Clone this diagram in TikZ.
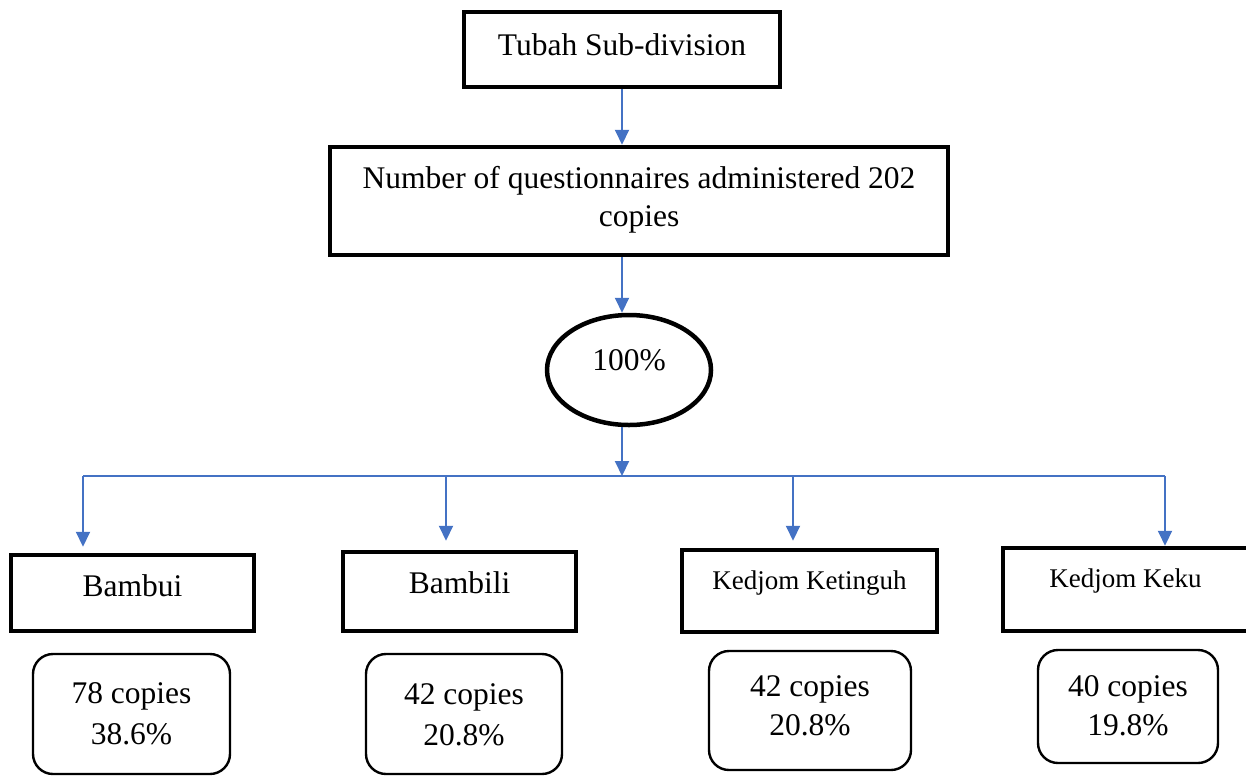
\documentclass[tikz,border=0pt]{standalone}
\usepackage{fontspec}
\setmainfont{Liberation Serif}
\usetikzlibrary{arrows.meta,shapes.geometric,calc}
\definecolor{wordblue}{RGB}{68,114,196}
\tikzset{
  mainfont/.style={font=\fontsize{31.5}{38}\selectfont},
  smallfont/.style={font=\fontsize{27}{33}\selectfont,text height=19pt},
  thickbox/.style={draw=black,line width=4.5pt,rectangle,inner sep=0pt,align=center,mainfont,text height=22pt},
  roundbox/.style={draw=black,line width=2.4pt,rectangle,rounded corners=20pt,inner sep=0pt,align=center},
  ovalbox/.style={draw=black,line width=4.5pt,ellipse,inner sep=0pt,mainfont,text height=22pt},
  flow/.style={draw=wordblue,line width=2pt,-{Triangle[length=15pt,width=14pt]}},
  busline/.style={draw=wordblue,line width=2pt},
}
\begin{document}
\begin{tikzpicture}[x=1pt,y=-1pt]
\useasboundingbox (0,0) rectangle (1246,777);
% main column
\node[thickbox,minimum width=316pt,minimum height=75pt,text depth=11pt] (top) at (622,49.5) {Tubah Sub-division};
\node[thickbox,minimum width=618pt,minimum height=108pt,text height=60pt,text depth=10pt] (mid) at (639,201) {Number of questionnaires administered 202\\copies};
\node[ovalbox,minimum width=164pt,minimum height=110pt,text depth=22pt] (ell) at (629,370) {100\%};
% sites
\node[thickbox,minimum width=243pt,minimum height=76pt,text depth=16pt] (b1) at (132.5,593) {Bambui};
\node[thickbox,minimum width=233pt,minimum height=79pt,text depth=19pt] (b2) at (459.5,591.5) {Bambili};
\node[thickbox,smallfont,minimum width=255pt,minimum height=82pt,text depth=23pt] (b3) at (809.5,591) {Kedjom Ketinguh};
\node[thickbox,smallfont,minimum width=245pt,minimum height=83pt,text depth=24pt] (b4) at (1125.5,589.5) {Kedjom Keku};
% counts
\node[roundbox,font=\fontsize{31.5}{41}\selectfont,minimum width=197pt,minimum height=120pt,text height=63pt,text depth=3pt] (r1) at (131.5,714) {78 copies\\38.6\%};
\node[roundbox,font=\fontsize{31.5}{41}\selectfont,minimum width=196pt,minimum height=120pt,text height=63pt,text depth=1pt] (r2) at (464,714) {42 copies\\20.8\%};
\node[roundbox,font=\fontsize{31.5}{39}\selectfont,minimum width=202pt,minimum height=119pt,text height=61pt,text depth=12pt] (r3) at (810,710.5) {42 copies\\20.8\%};
\node[roundbox,font=\fontsize{31.5}{39}\selectfont,minimum width=180pt,minimum height=113pt,text height=61pt,text depth=4pt] (r4) at (1128,706.5) {40 copies\\19.8\%};
% trunk and bus coordinates
\coordinate (tx) at (622,0);
\coordinate (bus) at (622,476);
\coordinate (d1) at (83,476);
\coordinate (d2) at (446,476);
\coordinate (d3) at (793,476);
\coordinate (d4) at (1165,476);
% connectors
\draw[flow] (tx |- top.south) -- (tx |- mid.north);
\draw[flow] (tx |- mid.south) -- (tx |- ell.north);
\draw[flow] (tx |- ell.south) -- (bus);
\draw[busline] (d1) -- (d4);
\draw[flow] (d1) -- ($(d1 |- b1.north)+(0,-6)$);
\draw[flow] (d2) -- ($(d2 |- b2.north)+(0,-9)$);
\draw[flow] (d3) -- ($(d3 |- b3.north)+(0,-7)$);
\draw[flow] (d4) -- (d4 |- b4.north);
\end{tikzpicture}
\end{document}
